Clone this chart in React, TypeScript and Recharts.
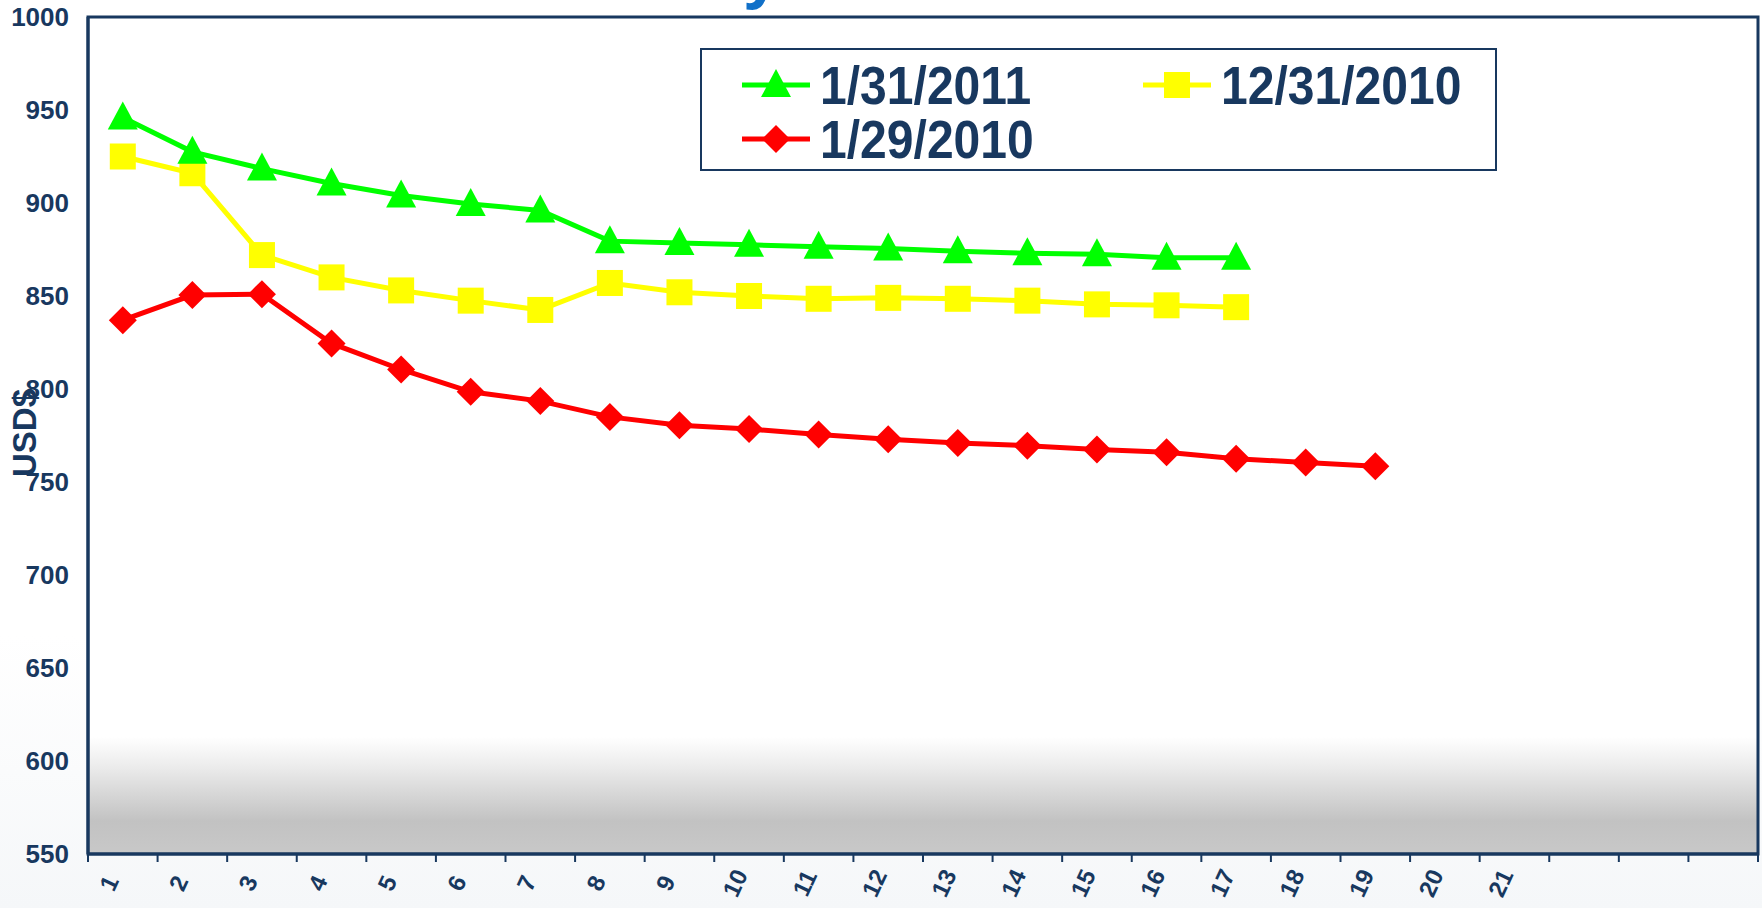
import React from "react";
import {
    LineChart,
    Line,
    XAxis,
    YAxis,
    CartesianGrid,
    ReferenceArea,
} from "recharts";

// x positions 1..24, only 1..21 carry a label
const positions = [1, 2, 3, 4, 5, 6, 7, 8, 9, 10, 11, 12, 13, 14, 15, 16, 17, 18, 19, 20, 21, 22, 23, 24];
const tickLabels = [
    "1", "2", "3", "4", "5", "6", "7", "8", "9", "10", "11", "12",
    "13", "14", "15", "16", "17", "18", "19", "20", "21", "", "", "",
];
const yTicks = [550, 600, 650, 700, 750, 800, 850, 900, 950, 1000];

const jan2011 = [946, 927.5, 918.5, 910.5, 904, 899.5, 896, 879.5, 878.5, 877.5, 876.5, 875.5, 874, 873, 872.5, 870.5, 870.5];
const dec2010 = [925, 916, 872, 860, 853, 847.5, 842.5, 857, 852, 850, 848.5, 849, 848.5, 847.5, 845.5, 845, 844];
const jan2010 = [837, 850.5, 851, 824.5, 810.5, 798.5, 793.5, 785, 780.5, 778.5, 775.5, 773, 771, 769.5, 767.5, 766, 762.5, 760.5, 758.5];

const NAVY = "#18385F";
const FONT = "'Liberation Sans', Arial, sans-serif";
const BAND = 1670 / 24;

const chartData = positions.map((p, i) => ({
    pos: p,
    label: tickLabels[i],
    jan2011: jan2011[i] ?? null,
    dec2010: dec2010[i] ?? null,
    jan2010: jan2010[i] ?? null,
}));

function Triangle({ cx, cy, fill }: any) {
    if (cx == null || cy == null) return null;
    return <polygon points={`${cx},${cy - 16} ${cx + 15},${cy + 12} ${cx - 15},${cy + 12}`} fill={fill} />;
}

function Square({ cx, cy, fill }: any) {
    if (cx == null || cy == null) return null;
    return <rect x={cx - 13} y={cy - 13} width={26} height={26} fill={fill} />;
}

function Diamond({ cx, cy, fill }: any) {
    if (cx == null || cy == null) return null;
    return <polygon points={`${cx},${cy - 14} ${cx + 14},${cy} ${cx},${cy + 14} ${cx - 14},${cy}`} fill={fill} />;
}

function XTick({ x, y, payload, index }: any) {
    const label = tickLabels[payload.value - 1];
    return (
        <g>
            <line x1={x - BAND / 2} x2={x - BAND / 2} y1={y} y2={y + 8} stroke={NAVY} strokeWidth={2} />
            {index === positions.length - 1 && (
                <line x1={x + BAND / 2} x2={x + BAND / 2} y1={y} y2={y + 8} stroke={NAVY} strokeWidth={2} />
            )}
            <text
                transform={`translate(${x - 14},${y + 29}) rotate(-65)`}
                textAnchor="middle"
                dominantBaseline="central"
                fontFamily={FONT}
                fontWeight="bold"
                fontSize={24}
                fill={NAVY}
            >
                {label}
            </text>
        </g>
    );
}

function LegendRow({ color, marker, text }: { color: string; marker: string; text: string }) {
    return (
        <div style={{ display: "flex", alignItems: "center", height: 54 }}>
            <svg width={68} height={40} style={{ marginRight: 10 }}>
                <line x1={0} x2={68} y1={20} y2={20} stroke={color} strokeWidth={5} />
                {marker === "tri" && <Triangle cx={34} cy={20} fill={color} />}
                {marker === "sq" && <Square cx={34} cy={20} fill={color} />}
                {marker === "dia" && <Diamond cx={34} cy={20} fill={color} />}
            </svg>
            <span
                style={{
                    fontFamily: "'Liberation Sans Narrow', 'Arial Narrow', 'Liberation Sans', sans-serif",
                    fontWeight: "bold",
                    fontSize: 54,
                    color: NAVY,
                    lineHeight: 1,
                    display: "inline-block",
                    transform: "scaleX(0.89)",
                    transformOrigin: "left center",
                    whiteSpace: "nowrap",
                }}
            >
                {text}
            </span>
        </div>
    );
}

export default function App() {
    return (
        <div
            style={{
                position: "relative",
                width: 1762,
                height: 908,
                background: "linear-gradient(to bottom, #ffffff 70%, #f5f7f9 100%)",
                overflow: "hidden",
            }}
        >
            <style>{`body{margin:0}`}</style>
            <LineChart
                width={1762}
                height={908}
                data={chartData}
                margin={{ top: 17, right: 4, left: 0, bottom: 0 }}
            >
                <defs>
                    <linearGradient id="floor" x1="0" y1="0" x2="0" y2="1">
                        <stop offset="0" stopColor="#ffffff" />
                        <stop offset="0.25" stopColor="#ececec" />
                        <stop offset="0.72" stopColor="#c2c2c2" />
                        <stop offset="1" stopColor="#c8c8c8" />
                    </linearGradient>
                </defs>
                <ReferenceArea x1={1} x2={24} y1={550} y2={1000} fill="#ffffff" fillOpacity={1} />
                <ReferenceArea x1={1} x2={24} y1={550} y2={613} fill="url(#floor)" fillOpacity={1} />
                <CartesianGrid vertical={false} stroke="#A3A3A3" strokeWidth={2} />
                <XAxis
                    dataKey="pos"
                    type="category"
                    scale="band"
                    height={54}
                    interval={0}
                    tickLine={false}
                    axisLine={{ stroke: NAVY, strokeWidth: 3 }}
                    tickSize={0}
                    tickMargin={0}
                    tick={<XTick />}
                />
                <YAxis
                    domain={[550, 1000]}
                    ticks={yTicks}
                    width={88}
                    tickLine={false}
                    axisLine={{ stroke: NAVY, strokeWidth: 3 }}
                    tickSize={0}
                    tickMargin={19}
                    tick={{ fill: NAVY, fontSize: 26, fontWeight: "bold", fontFamily: FONT }}
                />
                <ReferenceArea
                    x1={1}
                    x2={24}
                    y1={550}
                    y2={1000}
                    fill="none"
                    fillOpacity={0}
                    stroke={NAVY}
                    strokeWidth={3}
                />
                <Line
                    dataKey="jan2010"
                    stroke="#FF0000"
                    strokeWidth={5}
                    dot={<Diamond fill="#FF0000" />}
                    activeDot={false}
                    isAnimationActive={false}
                />
                <Line
                    dataKey="dec2010"
                    stroke="#FFFF00"
                    strokeWidth={5}
                    dot={<Square fill="#FFFF00" />}
                    activeDot={false}
                    isAnimationActive={false}
                />
                <Line
                    dataKey="jan2011"
                    stroke="#00FF00"
                    strokeWidth={5}
                    dot={<Triangle fill="#00FF00" />}
                    activeDot={false}
                    isAnimationActive={false}
                />
            </LineChart>

            <svg width={1762} height={908} style={{ position: "absolute", left: 0, top: 0, pointerEvents: "none" }}>
                <text x={743} y={-4} fontSize={68} fontWeight="bold" fontFamily={FONT} fill="#1170C8">
                    y
                </text>
                <text
                    transform="translate(36,433) rotate(-90)"
                    textAnchor="middle"
                    fontSize={33}
                    fontWeight="bold"
                    fontFamily={FONT}
                    fill={NAVY}
                >
                    USD$
                </text>
            </svg>

            <div
                style={{
                    position: "absolute",
                    left: 700,
                    top: 48,
                    width: 793,
                    height: 119,
                    border: `2px solid ${NAVY}`,
                    background: "#ffffff",
                    boxSizing: "content-box",
                    padding: 0,
                }}
            >
                <div style={{ position: "absolute", left: 40, top: 8 }}>
                    <LegendRow color="#00FF00" marker="tri" text="1/31/2011" />
                </div>
                <div style={{ position: "absolute", left: 441, top: 8 }}>
                    <LegendRow color="#FFFF00" marker="sq" text="12/31/2010" />
                </div>
                <div style={{ position: "absolute", left: 40, top: 62 }}>
                    <LegendRow color="#FF0000" marker="dia" text="1/29/2010" />
                </div>
            </div>
        </div>
    );
}
